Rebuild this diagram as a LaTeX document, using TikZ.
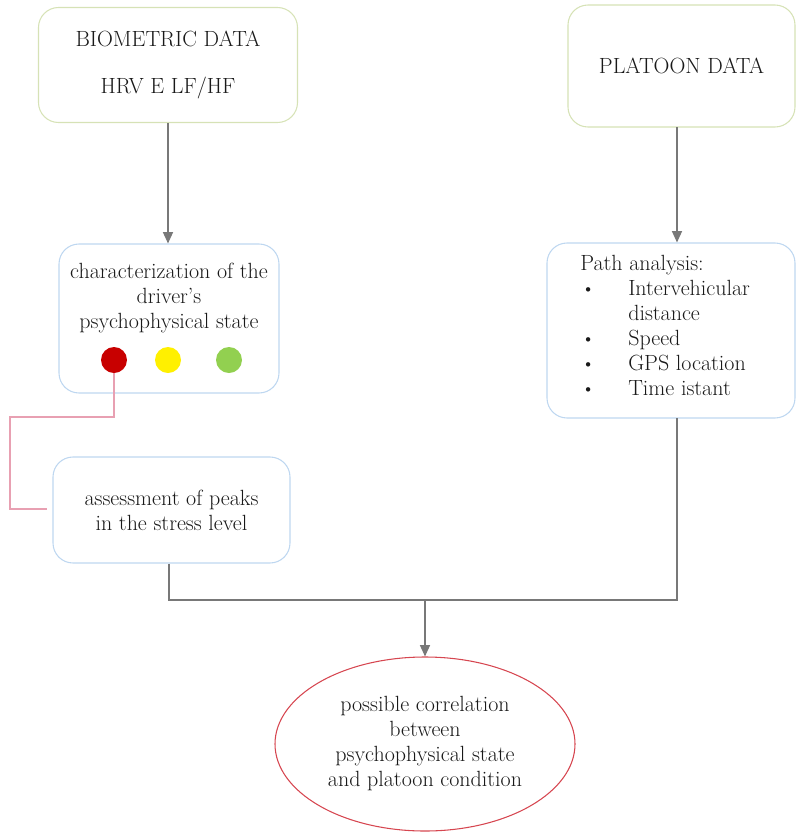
\documentclass[tikz,border=0pt]{standalone}
\usetikzlibrary{arrows.meta,shapes.geometric}
\definecolor{boxgreen}{RGB}{214,226,182}
\definecolor{boxblue}{RGB}{190,215,240}
\definecolor{linegray}{RGB}{120,120,120}
\definecolor{linkpink}{RGB}{232,160,178}
\definecolor{ovalred}{RGB}{214,70,80}
\definecolor{dotred}{RGB}{200,0,0}
\definecolor{dotyellow}{RGB}{255,240,0}
\definecolor{dotgreen}{RGB}{146,208,80}
\newcommand{\itm}{\hspace*{3.75pt}\makebox[32.25pt][l]{\raisebox{2pt}{\footnotesize$\bullet$}}}
\begin{document}
\begin{tikzpicture}[x=0.75pt,y=-0.75pt,font=\fontsize{16.5}{18.75}\selectfont,text=black!90]
		\tikzset{databox/.style={draw=boxgreen,line width=0.8pt,rounded corners=15pt,inner sep=0pt,align=center},
			infobox/.style={draw=boxblue,line width=0.8pt,rounded corners=15pt,inner sep=0pt,align=center},
			flow/.style={draw=linegray,line width=1pt,-{Triangle[width=7.5pt,length=8.5pt]}},
			plain/.style={draw=linegray,line width=1pt},
			dot/.style={circle,minimum size=19.5pt,inner sep=0pt}}
		\useasboundingbox (0,0) rectangle (797,833);
		% input boxes
		\node [databox,minimum width=194.25pt,minimum height=86.25pt] (bio) at (168,65) {BIOMETRIC DATA\\[16pt]HRV E LF/HF};
		\node [databox,minimum width=170.25pt,minimum height=91.5pt] (platoon) at (681.5,66) {PLATOON DATA};
		% analysis boxes
		\node [infobox,minimum width=165pt,minimum height=111.75pt] (state) at (169,318.5) {};
		\node [align=center,inner sep=0pt] (statetxt) at (169,298) {characterization of the\\driver's\\psychophysical state};
		\node [dot,fill=dotred] (red) at (114,360) {};
		\node [dot,fill=dotyellow] (yel) at (168,360) {};
		\node [dot,fill=dotgreen] (grn) at (229,360) {};
		\node [infobox,minimum width=186pt,minimum height=131.25pt] (path) at (671,330.5) {};
		\node [anchor=north west,align=left,inner sep=0pt] (pathtxt) at (580,255) {Path analysis:\\
			\itm Intervehicular\\ \hspace*{36pt}distance\\ \itm Speed\\ \itm GPS location\\ \itm Time istant};
		\node [infobox,minimum width=177.75pt,minimum height=79.5pt] (peaks) at (171.5,510) {assessment of peaks\\in the stress level};
		% result
		\node [draw=ovalred,ellipse,line width=0.8pt,minimum width=225pt,minimum height=130.5pt,inner sep=0pt,align=center] (corr) at (425,744)
			{possible correlation\\between\\psychophysical state\\and platoon condition};
		% connectors
		\coordinate (platout) at (677,127);
		\coordinate (pathout) at (677,418);
		\coordinate (bend) at (10,417);
		\coordinate (pkin) at (47,509);
		\coordinate (join) at (425,600);
		\draw [flow] (bio.south) -- (bio.south |- state.north);
		\draw [flow] (platout) -- (platout |- path.north);
		\draw [draw=linkpink,line width=0.8pt] (red.south) |- (bend) |- (pkin);
		\draw [plain] ([xshift=-2pt]peaks.south) |- (join) -| (pathout);
		\draw [flow] (join) -- (corr.north);
	\end{tikzpicture}
\end{document}
